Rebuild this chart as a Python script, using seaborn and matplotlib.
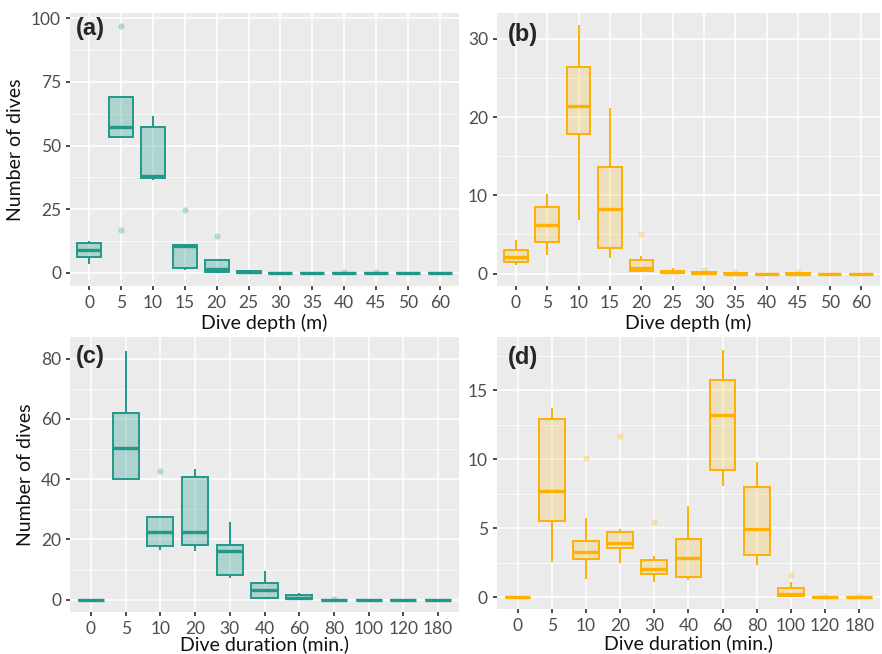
import numpy as np
import pandas as pd
import seaborn as sns
import matplotlib.pyplot as plt
from matplotlib.colors import to_rgb
from matplotlib.ticker import MultipleLocator

# box statistics
depth_cats = ['0', '5', '10', '15', '20', '25', '30', '35', '40', '45', '50', '60']
dur_cats = ['0', '5', '10', '20', '30', '40', '60', '80', '100', '120', '180']

# (a) dive depth, teal
a_lo = [3.7, 53.3, 36.4, 1.0, 0.0, 0.0, 0, 0, 0, 0, 0, 0]
a_q1 = [6.1, 53.3, 37.2, 2.0, 0.3, 0.1, 0, 0, 0, 0, 0, 0]
a_med = [8.9, 57.2, 38.1, 10.6, 1.6, 0.4, 0, 0, 0, 0, 0, 0]
a_q3 = [11.7, 69.2, 57.4, 10.9, 5.2, 0.8, 0, 0, 0, 0, 0, 0]
a_hi = [12.4, 69.2, 61.7, 10.9, 5.2, 0.9, 0, 0, 0, 0, 0, 0]
a_out = [[], [17.0, 97.0], [], [24.6], [14.5], [], [], [], [0.3], [0.3], [], []]

# (b) dive depth, orange
b_lo = [1.15, 2.44, 6.84, 2.0, 0.3, 0.0, 0, 0, 0, 0, 0, 0]
b_q1 = [1.5, 4.02, 17.9, 3.25, 0.34, 0.04, 0, 0, 0, 0, 0, 0]
b_med = [2.14, 6.2, 21.45, 8.25, 0.73, 0.25, 0.05, 0, 0, 0, 0, 0]
b_q3 = [3.08, 8.55, 26.4, 13.6, 1.79, 0.38, 0.15, 0.05, 0, 0.05, 0, 0]
b_hi = [4.36, 10.17, 31.75, 21.2, 2.3, 0.73, 0.15, 0.05, 0, 0.05, 0, 0]
b_out = [[], [], [], [], [5.1], [], [0.45], [0.25], [], [0.2], [], []]

# (c) dive duration, teal
c_lo = [0, 39.7, 16.4, 16.2, 7.2, 0.3, 0.0, 0, 0, 0, 0]
c_q1 = [0, 40.0, 17.8, 18.0, 8.3, 0.55, 0.1, 0, 0, 0, 0]
c_med = [0, 50.2, 22.5, 22.6, 16.0, 3.1, 0.45, 0, 0, 0, 0]
c_q3 = [0, 62.0, 27.6, 40.8, 18.2, 5.4, 1.55, 0, 0, 0, 0]
c_hi = [0, 82.5, 27.6, 43.5, 25.7, 9.5, 2.3, 0, 0, 0, 0]
c_out = [[], [], [42.8], [], [], [], [], [0.3], [], [], []]

# (d) dive duration, orange
d_lo = [0, 2.51, 1.30, 2.46, 1.09, 1.21, 8.08, 2.29, 0.0, 0, 0]
d_q1 = [0, 5.52, 2.75, 3.54, 1.69, 1.47, 9.24, 3.06, 0.07, 0, 0]
d_med = [0, 7.72, 3.26, 3.95, 2.0, 2.80, 13.17, 4.94, 0.22, 0, 0]
d_q3 = [0, 12.9, 4.05, 4.75, 2.68, 4.22, 15.77, 7.96, 0.66, 0, 0]
d_hi = [0, 13.74, 5.76, 4.92, 3.01, 6.63, 17.9, 9.81, 1.06, 0, 0]
d_out = [[], [], [10.1], [11.7], [5.45], [], [], [], [1.62], [0.05], [0.05]]

teal = '#21998a'
orange = '#ffb000'


def samples(cats, lo, q1, med, q3, hi, out):
    # nine values per class so the quartiles land on q1 / med / q3
    rows = []
    for i, c in enumerate(cats):
        low = [o for o in out[i] if o < q1[i]]
        high = [o for o in out[i] if o > q3[i]]
        v0 = low[0] if low else lo[i]
        v8 = high[0] if high else hi[i]
        for v in [v0, lo[i], q1[i], q1[i], med[i], q3[i], q3[i], hi[i], v8]:
            rows.append((c, v))
    return pd.DataFrame(rows, columns=['cat', 'val'])


sns.set_theme(style='darkgrid')
plt.rcParams['font.family'] = ['Lato', 'DejaVu Sans']
plt.rcParams.update({
    'axes.facecolor': '#ebebeb',
    'grid.color': 'white',
    'xtick.bottom': True, 'ytick.left': True,
    'xtick.major.size': 3, 'ytick.major.size': 3,
    'xtick.color': '#333333', 'ytick.color': '#333333',
    'xtick.labelcolor': '#4d4d4d', 'ytick.labelcolor': '#4d4d4d',
    'xtick.labelsize': 12.5, 'ytick.labelsize': 12.5,
    'axes.labelsize': 14,
    'axes.labelcolor': '#111111',
})

fig = plt.figure(figsize=(8.82, 6.54), dpi=100)

panels = [
    ([0.0794, 0.5627, 0.441, 0.4174], depth_cats, (a_lo, a_q1, a_med, a_q3, a_hi, a_out),
     teal, 0.3, (-5.1, 102), 25, 'Dive depth (m)', 'Number of dives', '(a)', (0.015, 0.985), 2),
    ([0.5635, 0.5627, 0.434, 0.4174], depth_cats, (b_lo, b_q1, b_med, b_q3, b_hi, b_out),
     orange, 0.2, (-1.58, 33.3), 10, 'Dive depth (m)', '', '(b)', (0.029, 0.965), 2),
    ([0.0794, 0.0642, 0.441, 0.4205], dur_cats, (c_lo, c_q1, c_med, c_q3, c_hi, c_out),
     teal, 0.3, (-4.1, 87.2), 20, 'Dive duration (min.)', 'Number of dives', '(c)', (0.015, 0.97), -1),
    ([0.5635, 0.0688, 0.434, 0.416], dur_cats, (d_lo, d_q1, d_med, d_q3, d_hi, d_out),
     orange, 0.2, (-0.87, 18.86), 5, 'Dive duration (min.)', '', '(d)', (0.029, 0.965), 0),
]

for rect, cats, stats, col, alpha, ylim, step, xlab, ylab, tag, tpos, pad in panels:
    ax = fig.add_axes(rect)
    df = samples(cats, *stats)
    sns.boxplot(data=df, x='cat', y='val', order=cats, ax=ax, color=col,
                linecolor=col, saturation=1, width=0.75, linewidth=1.4,
                showcaps=False, medianprops=dict(linewidth=2.4),
                flierprops=dict(marker='o', markersize=4.5, markerfacecolor=col,
                                markeredgecolor='none', alpha=0.3))
    for p in ax.patches:
        p.set_facecolor((*to_rgb(col), alpha))
    ax.set_xlim(-0.6, len(cats) - 0.4)
    ax.set_ylim(*ylim)
    ax.yaxis.set_major_locator(MultipleLocator(step))
    ax.yaxis.set_minor_locator(MultipleLocator(step / 2))
    ax.grid(True, which='major', color='white', linewidth=1.1)
    ax.grid(True, which='minor', axis='y', color='white', linewidth=0.5)
    ax.tick_params(which='minor', left=False)
    ax.set_axisbelow(True)
    for s in ax.spines.values():
        s.set_visible(False)
    ax.set_xlabel(xlab, labelpad=pad)
    ax.set_ylabel(ylab, labelpad=5)
    ax.text(tpos[0], tpos[1], tag, transform=ax.transAxes, ha='left', va='top',
            fontsize=17, fontweight='bold', family=['Liberation Sans', 'DejaVu Sans'])

fig.savefig('out.png', dpi=100)
